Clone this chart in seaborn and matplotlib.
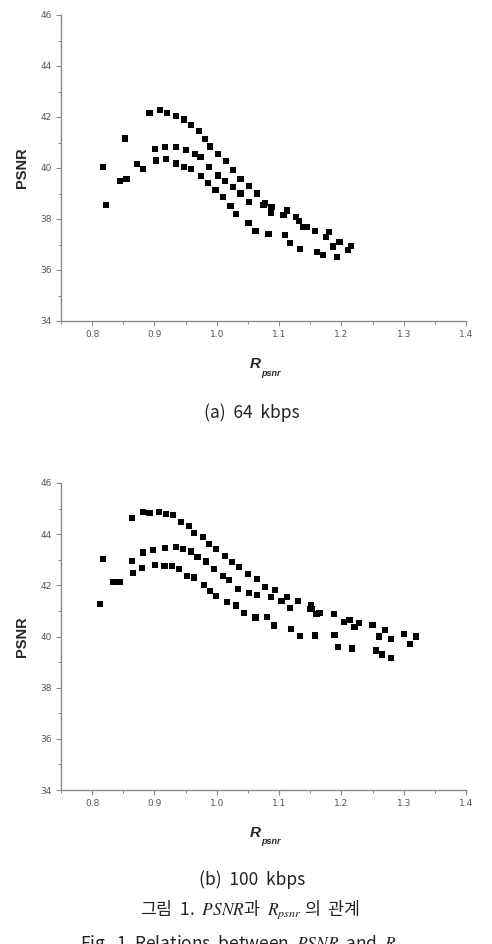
import matplotlib
matplotlib.use("Agg")
import matplotlib.pyplot as plt
import seaborn as sns
import pandas as pd
from matplotlib.ticker import MultipleLocator

# ---------------- data ----------------
x64 = [0.818, 0.822, 0.845, 0.855, 0.853, 0.872, 0.881,
       0.892, 0.909, 0.920, 0.934, 0.948, 0.959, 0.972, 0.981, 0.989, 1.002, 1.015, 1.026, 1.038,
       1.052, 1.064, 1.078, 1.088, 1.113, 1.127, 1.139, 1.158, 1.180, 1.197, 1.210,
       0.901, 0.917, 0.934, 0.951, 0.965, 0.974, 0.988, 1.002, 1.013, 1.026, 1.038, 1.052,
       1.075, 1.087, 1.107, 1.132, 1.145, 1.175, 1.187, 1.215,
       0.903, 0.919, 0.935, 0.948, 0.959, 0.975, 0.986, 0.998, 1.010, 1.022, 1.031, 1.051,
       1.062, 1.083, 1.110, 1.117, 1.134, 1.161, 1.170, 1.193]
y64 = [40.05, 38.55, 39.50, 39.56, 41.16, 40.16, 39.97,
       42.15, 42.27, 42.17, 42.05, 41.90, 41.70, 41.45, 41.14, 40.84, 40.54, 40.27, 39.92, 39.58,
       39.29, 39.00, 38.64, 38.48, 38.33, 38.09, 37.70, 37.54, 37.48, 37.11, 36.78,
       40.73, 40.81, 40.82, 40.71, 40.55, 40.42, 40.05, 39.71, 39.50, 39.24, 39.00, 38.68,
       38.55, 38.22, 38.16, 37.93, 37.70, 37.30, 36.92, 36.95,
       40.29, 40.35, 40.18, 40.03, 39.96, 39.69, 39.40, 39.14, 38.85, 38.52, 38.21, 37.85,
       37.54, 37.41, 37.37, 37.05, 36.82, 36.72, 36.60, 36.50]

x100 = [0.813, 0.818, 0.833, 0.844, 0.864, 0.864, 0.865,
        0.881, 0.892, 0.907, 0.919, 0.930, 0.943, 0.955, 0.964, 0.978, 0.987, 0.999, 1.013,
        1.024, 1.036, 1.050, 1.065, 1.077, 1.094, 1.113, 1.130, 1.151, 1.153, 1.165, 1.188,
        1.204, 1.213, 1.221, 1.228, 1.250, 1.270, 1.300, 1.320,
        0.882, 0.898, 0.917, 0.934, 0.946, 0.959, 0.969, 0.983, 0.996, 1.010, 1.019, 1.034,
        1.052, 1.065, 1.087, 1.104, 1.118, 1.149, 1.160, 1.260, 1.280, 1.310,
        0.880, 0.901, 0.916, 0.928, 0.940, 0.952, 0.964, 0.979, 0.989, 0.999, 1.016, 1.031,
        1.044, 1.062, 1.080, 1.092, 1.119, 1.133, 1.158, 1.189, 1.194, 1.217, 1.255, 1.265, 1.280]
y100 = [41.27, 43.04, 42.12, 42.12, 44.63, 42.96, 42.47,
        44.88, 44.82, 44.88, 44.79, 44.75, 44.49, 44.32, 44.06, 43.90, 43.62, 43.41, 43.16,
        42.90, 42.71, 42.45, 42.25, 41.93, 41.82, 41.54, 41.39, 41.23, 41.07, 40.91, 40.89,
        40.58, 40.64, 40.38, 40.54, 40.45, 40.25, 40.10, 40.00,
        43.28, 43.38, 43.45, 43.51, 43.42, 43.32, 43.10, 42.93, 42.64, 42.37, 42.21, 41.86,
        41.70, 41.63, 41.53, 41.39, 41.11, 41.07, 40.89, 40.00, 39.90, 39.70,
        42.67, 42.80, 42.76, 42.76, 42.65, 42.38, 42.31, 42.01, 41.79, 41.58, 41.36, 41.21,
        40.91, 40.74, 40.76, 40.43, 40.30, 40.01, 40.04, 40.07, 39.59, 39.53, 39.45, 39.30, 39.15]

x_ticks = [0.8, 0.9, 1.0, 1.1, 1.2, 1.3, 1.4]
y_ticks = [34, 36, 38, 40, 42, 44, 46]
captions = ["(a)  64  kbps", "(b)  100  kbps"]

# ---------------- figure ----------------
sns.set_style("white")
plt.rcParams['font.family'] = ['Noto Sans CJK KR', 'DejaVu Sans']
plt.rcParams['mathtext.fontset'] = 'stix'

W, H = 492, 944
fig = plt.figure(figsize=(W / 100, H / 100), dpi=100)

def px_rect(left, top, right, bottom):
    return [left / W, 1 - bottom / H, (right - left) / W, (bottom - top) / H]

axes_specs = [
    (px_rect(61, 15, 466, 321), x64, y64),
    (px_rect(61, 483, 466, 790), x100, y100),
]

spine_col = '#8a8a8a'
tick_col = '#555555'

for i, (rect, xs, ys) in enumerate(axes_specs):
    ax = fig.add_axes(rect)
    df = pd.DataFrame({"x": xs, "y": ys})
    sns.scatterplot(data=df, x="x", y="y", ax=ax, marker="s", color="black",
                    s=20, edgecolor="none", linewidth=0)
    ax.set_xlim(0.75, 1.4)
    ax.set_ylim(34, 46)
    ax.set_xticks(x_ticks)
    ax.set_xticklabels([f"{v:.1f}" for v in x_ticks])
    ax.set_yticks(y_ticks)
    ax.set_yticklabels([str(v) for v in y_ticks])
    ax.xaxis.set_minor_locator(MultipleLocator(0.05))
    ax.yaxis.set_minor_locator(MultipleLocator(1))
    for s in ['top', 'right']:
        ax.spines[s].set_visible(False)
    for s in ['left', 'bottom']:
        ax.spines[s].set_color(spine_col)
        ax.spines[s].set_linewidth(1.0)
    ax.tick_params(which='major', direction='out', length=3.5, width=0.8,
                   color=spine_col, labelsize=6.5, labelcolor=tick_col,
                   bottom=True, left=True, pad=3)
    ax.tick_params(which='minor', direction='out', length=2, width=0.7,
                   color=spine_col, bottom=True, left=True)
    for lab in ax.get_xticklabels() + ax.get_yticklabels():
        lab.set_family('DejaVu Sans')
    ax.set_xlabel("")
    ax.set_ylabel("")
    # y label
    top_px = 15 if i == 0 else 483
    bot_px = 321 if i == 0 else 790
    fig.text(22 / W, 1 - (top_px + bot_px) / 2 / H, "PSNR", rotation=90,
             ha='center', va='center', fontsize=10.5, fontweight='bold',
             family=['Liberation Sans', 'DejaVu Sans'])
    # x label R_psnr
    fig.text(255 / W, 1 - (bot_px + 43) / H, "R", ha='center', va='center',
             fontsize=11, fontweight='bold', style='italic',
             family=['Liberation Sans', 'DejaVu Sans'])
    fig.text(261 / W, 1 - (bot_px + 52) / H, "psnr", ha='left', va='center',
             fontsize=6.5, fontweight='bold', style='italic',
             family=['Liberation Sans', 'DejaVu Sans'])

# captions
fig.text(252 / W, 1 - 413 / H, captions[0], ha='center', va='center',
         fontsize=12.5, color='#222222')
fig.text(252 / W, 1 - 880 / H, captions[1], ha='center', va='center',
         fontsize=12.5, color='#222222')
fig.text(250 / W, 1 - 910 / H, "그림  1.  $PSNR$과  $R_{psnr}$ 의  관계",
         ha='center', va='center', fontsize=12.5, color='#222222')
fig.text(250 / W, 1 - 944 / H, "Fig.  1  Relations  between  $PSNR$  and  $R_{psnr}$",
         ha='center', va='center', fontsize=12.5, color='#222222')

fig.savefig("out.png", dpi=100)
